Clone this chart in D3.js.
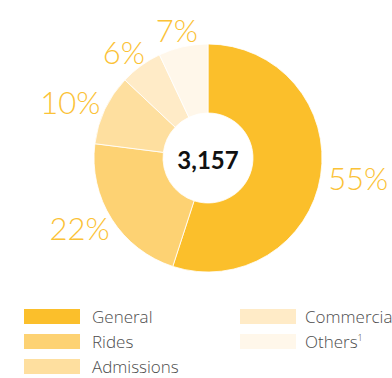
<!DOCTYPE html>
<html>
<head>
<meta charset="utf-8">
<script src="https://cdn.jsdelivr.net/npm/d3@7"></script>
<style>
  body { margin: 0; background: #fff; }
  svg { display: block; font-family: Lato, "Open Sans", sans-serif; }
</style>
</head>
<body>
<svg id="donut" width="392" height="378"></svg>
<script>
// segments, clockwise from 12 o'clock
const categories = ["General", "Rides", "Admissions", "Commercial", "Others"];
const shares = [55, 22, 10, 6, 7];
const colors = ["#fbbf2b", "#fdd273", "#fedf9f", "#ffebc7", "#fff7ea"];
const total = "3,157";
// legend laid out in two columns
const legendCols = [["General", "Rides", "Admissions"], ["Commercial", "Others"]];

let svg = d3.select("#donut"),
    cx = 208, cy = 158,
    outerR = 114, innerR = 45;

let color = d3.scaleOrdinal().domain(categories).range(colors);

let data = categories.map((c, i) => ({name: c, value: shares[i]}));

let pie = d3.pie()
    .sort(null)
    .value(d => d.value);

let arc = d3.arc()
    .innerRadius(innerR)
    .outerRadius(outerR);

let g = svg.append("g")
    .attr("transform", `translate(${cx},${cy})`);

let arcs = pie(data);

g.selectAll("path")
    .data(arcs)
    .join("path")
    .attr("d", arc)
    .attr("fill", d => color(d.data.name))
    .attr("stroke", "#fff")
    .attr("stroke-width", 0.8);

// percent labels just outside the ring, pushed out by half their size
let fontSize = 31;
g.selectAll("text.pct")
    .data(arcs)
    .join("text")
    .attr("class", "pct")
    .attr("text-anchor", "middle")
    .attr("dominant-baseline", "central")
    .attr("font-size", fontSize)
    .attr("font-weight", 300)
    .attr("fill", "#fbc236")
    .text(d => d.data.value + "%")
    .attr("x", function(d) {
        let a = (d.startAngle + d.endAngle) / 2;
        let w = this.getComputedTextLength();
        return Math.sin(a) * (outerR + 8) + Math.sin(a) * w / 2;
    })
    .attr("y", function(d) {
        let a = (d.startAngle + d.endAngle) / 2;
        return -Math.cos(a) * (outerR + 8) - Math.cos(a) * 9;
    });

g.append("text")
    .attr("text-anchor", "middle")
    .attr("dominant-baseline", "central")
    .attr("y", 1)
    .attr("font-size", 24)
    .attr("font-weight", 700)
    .attr("fill", "#111")
    .text(total);

// legend
let colX = d3.scaleOrdinal().domain([0, 1]).range([24, 240]);
let rowY = d3.scaleLinear().domain([0, 1]).range([309, 334]);

legendCols.forEach((names, ci) => {
    let lg = svg.append("g")
        .selectAll("g")
        .data(names)
        .join("g")
        .attr("transform", (d, i) => `translate(${colX(ci)},${rowY(i)})`);

    lg.append("rect")
        .attr("width", 56)
        .attr("height", 15)
        .attr("fill", d => color(d));

    let t = lg.append("text")
        .attr("x", ci ? 65 : 68)
        .attr("y", 14)
        .attr("font-family", "'Open Sans', sans-serif")
        .attr("font-weight", 300)
        .attr("font-size", 17)
        .attr("fill", "#4d4d4d")
        .text(d => d);

    t.filter(d => d === "Others")
        .append("tspan")
        .attr("font-size", 9)
        .attr("dy", -7)
        .text("1");
});
</script>
</body>
</html>
